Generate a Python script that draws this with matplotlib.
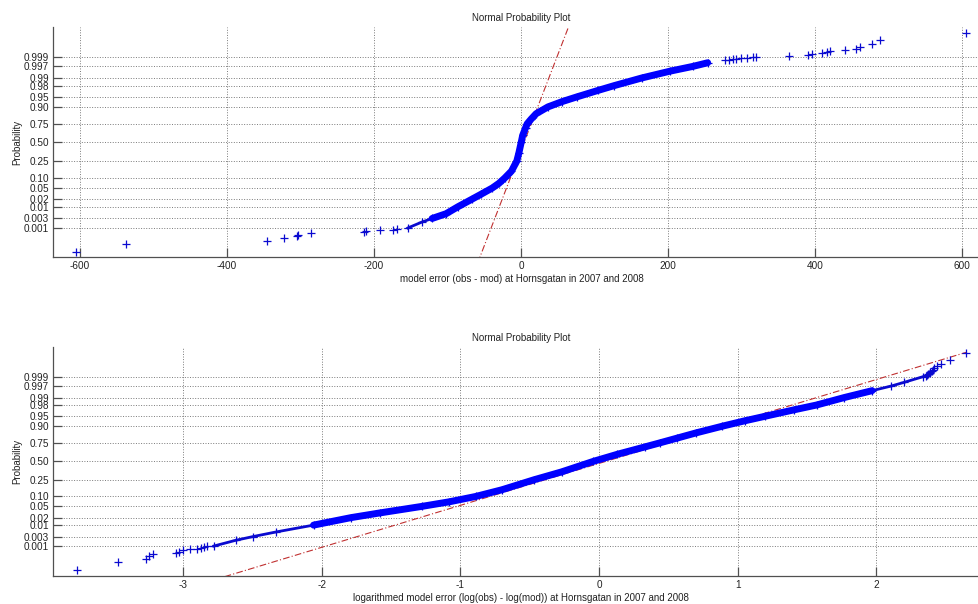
import matplotlib
matplotlib.use('Agg')
import matplotlib.pyplot as plt
from statistics import NormalDist

plt.rcParams['font.family'] = ['Liberation Sans', 'DejaVu Sans']

nd = NormalDist()

#------------------------- probability axis ---------------------------------
prob_ticks = [0.001, 0.003, 0.01, 0.02, 0.05, 0.10, 0.25, 0.50, 0.75,
              0.90, 0.95, 0.98, 0.99, 0.997, 0.999]
prob_labels = ['0.001', '0.003', '0.01', '0.02', '0.05', '0.10', '0.25', '0.50',
               '0.75', '0.90', '0.95', '0.98', '0.99', '0.997', '0.999']

#------------------------- top: model error ---------------------------------
top_lo_err = [-605, -538, -346, -323, -305, -303, -286, -214, -211, -192, -174, -169]
top_lo_p = [0.0000385, 0.000115, 0.000192, 0.000269, 0.000346, 0.000423,
            0.000500, 0.000577, 0.000654, 0.000731, 0.000808, 0.000885]
top_hi_err = [606, 488, 477, 461, 456, 441, 421, 416, 409, 396, 391, 365,
              320, 315, 307, 300, 292, 289, 283, 278]
top_hi_p = [0.9999615, 0.999885, 0.999808, 0.999731, 0.999654, 0.999577,
            0.999500, 0.999423, 0.999346, 0.999269, 0.999192, 0.999115,
            0.999038, 0.998962, 0.998885, 0.998808, 0.998731, 0.998654,
            0.998577, 0.998500]
band_p = [0.001, 0.002, 0.003, 0.005, 0.01, 0.02, 0.03, 0.05, 0.07, 0.10, 0.15,
          0.25, 0.35, 0.50, 0.60, 0.70, 0.75, 0.80, 0.85, 0.90, 0.93, 0.95,
          0.97, 0.98, 0.99, 0.995, 0.997, 0.998]
top_band_err = [-154, -135, -121, -102, -86, -67, -55, -39, -30, -22, -13,
                -5.8, -3.0, 0.2, 2.2, 6.1, 8.4, 13.7, 20.5, 36.5, 56, 76,
                105, 127, 164, 203, 234, 254]
top_fit = (4.1, 14.5)   # mean, sigma of the reference line

#------------------------- bottom: log model error --------------------------
bot_lo_err = [-3.77, -3.47, -3.27, -3.25, -3.22, -3.05, -3.03, -3.00, -2.95,
              -2.90, -2.87, -2.85, -2.83]
bot_lo_p = [0.0000385, 0.000115, 0.000192, 0.000269, 0.000346, 0.000423,
            0.000500, 0.000577, 0.000654, 0.000731, 0.000808, 0.000885, 0.000962]
bot_hi_err = [2.65, 2.53, 2.47, 2.44, 2.42, 2.41, 2.40, 2.39, 2.385, 2.375, 2.37, 2.36]
bot_hi_p = [0.9999615, 0.999885, 0.999808, 0.999731, 0.999654, 0.999577,
            0.999500, 0.999423, 0.999346, 0.999269, 0.999192, 0.999115]
bot_band_p = band_p + [0.999]
bot_band_err = [-2.78, -2.62, -2.50, -2.33, -2.06, -1.79, -1.58, -1.28, -1.08,
                -0.89, -0.70, -0.47, -0.27, -0.04, 0.13, 0.33, 0.44, 0.56, 0.70,
                0.89, 1.05, 1.20, 1.41, 1.57, 1.77, 1.97, 2.11, 2.20, 2.34]
bot_fit = (0.05, 0.654)

def z(p):
    return [nd.inv_cdf(v) for v in p]

def normplot(ax, lo_err, lo_p, hi_err, hi_p, b_err, b_p, fit, dense, xlim, ylim,
             xticks, xlabel):
    blue = '#0a0ad0'
    # reference line across the data range
    xmin = min(lo_err)
    xmax = max(hi_err)
    mu, sd = fit
    ax.plot([xmin, xmax], [(xmin - mu) / sd, (xmax - mu) / sd], '-.',
            color='#c03030', lw=0.8, dashes=(6, 2, 1, 2), zorder=2)
    # sparse observations
    ax.plot(lo_err + hi_err, z(lo_p) + z(hi_p), '+', color=blue, ms=6, mew=0.9, zorder=3)
    # packed observations
    bz = z(b_p)
    ax.plot(b_err, bz, '+-', color=blue, ms=6, mew=0.9, lw=2.0, zorder=3)
    d0, d1 = dense
    ax.plot(b_err[d0:d1], bz[d0:d1], '-', color='#0000ff', lw=5.0,
            solid_capstyle='round', zorder=4)
    ax.set_xlim(xlim)
    ax.set_ylim(ylim)
    ax.set_xticks(xticks)
    ax.set_xticklabels([str(t) for t in xticks])
    ax.set_yticks(z(prob_ticks))
    ax.set_yticklabels(prob_labels)
    ax.grid(True, ls=':', color='#7a7a7a', lw=0.7)
    for s in ['top', 'right']:
        ax.spines[s].set_visible(False)
    for s in ['left', 'bottom']:
        ax.spines[s].set_color('#505050')
        ax.spines[s].set_linewidth(0.9)
    ax.tick_params(direction='in', length=6.5, width=0.9, color='#505050',
                   labelsize=7.2, labelcolor='#222222', pad=3)
    ax.set_title('Normal Probability Plot', fontsize=7, color='#222222', pad=4)
    ax.set_xlabel(xlabel, fontsize=7, color='#222222', labelpad=2)
    ax.set_ylabel('Probability', fontsize=7, color='#222222', labelpad=1)

fig = plt.figure(figsize=(9.79, 6.04), dpi=100)
ax1 = fig.add_axes([0.0541, 0.5745, 0.957, 0.3808])
ax2 = fig.add_axes([0.0541, 0.0469, 0.957, 0.3791])

normplot(ax1, top_lo_err, top_lo_p, top_hi_err, top_hi_p, top_band_err, band_p,
         top_fit, (2, 28), (-637, 638), (-4.14, 4.17), [-600, -400, -200, 0, 200, 400, 600],
         'model error (obs - mod) at Hornsgatan in 2007 and 2008')
normplot(ax2, bot_lo_err, bot_lo_p, bot_hi_err, bot_hi_p, bot_band_err, bot_band_p,
         bot_fit, (4, 26), (-3.94, 2.82), (-4.17, 4.18), [-3, -2, -1, 0, 1, 2],
         'logarithmed model error (log(obs) - log(mod)) at Hornsgatan in 2007 and 2008')

fig.savefig('out.png', dpi=100)
